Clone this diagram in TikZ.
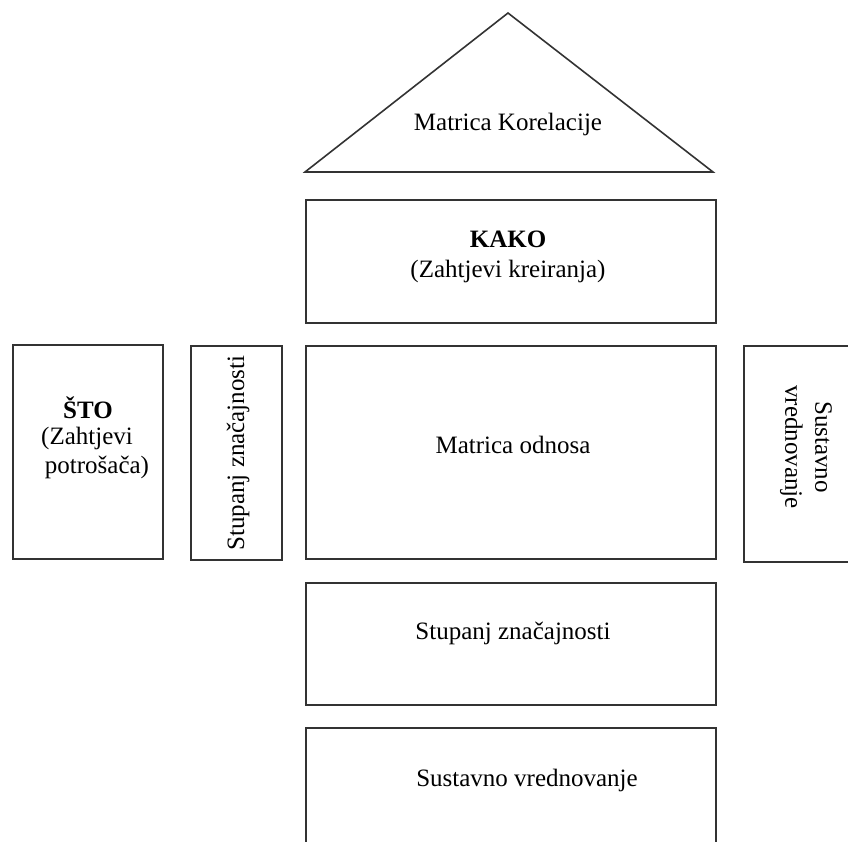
\documentclass[tikz,border=0pt]{standalone}
\usepackage{fontspec}
\setmainfont{Liberation Serif}
\begin{document}
\begin{tikzpicture}[x=0.5pt,y=-0.5pt,
  box/.style={draw=black!80, line width=0.8pt, inner sep=0pt, anchor=north west},
  txt/.style={inner sep=0pt, font=\fontsize{12.5}{15}\selectfont}]
\clip (0,0) rectangle (848,842);
% roof
\coordinate (tl) at (305,172);
\coordinate (tt) at (508,13);
\coordinate (tr) at (713,172);
\draw[draw=black!80, line width=0.8pt] (tl) -- (tt) -- (tr) -- cycle;
\node[txt] (korel) at (508,124) {Matrica Korelacije};
% boxes
\node[box, minimum width=205pt, minimum height=61.5pt] (kako) at (305,199) {};
\node[box, minimum width=205pt, minimum height=106.5pt] (odnos) at (305,345) {};
\node[box, minimum width=205pt, minimum height=61pt] (stup) at (305,582) {};
\node[box, minimum width=205pt, minimum height=100pt] (sust) at (305,727) {};
\node[box, minimum width=75pt, minimum height=107pt] (sto) at (12,344) {};
\node[box, minimum width=45.5pt, minimum height=107pt] (vstup) at (190,345) {};
\node[box, minimum width=75pt, minimum height=108pt] (vsust) at (743,345) {};
% texts
\node[txt, align=center] (kakot) at (508,257) {\textbf{KAKO}\\(Zahtjevi kreiranja)};
\node[txt] (odnost) at (513,445) {Matrica odnosa};
\node[txt] (stupt) at (513,633) {Stupanj značajnosti};
\node[txt] (sustt) at (527,780) {Sustavno vrednovanje};
\node[txt] (sto1) at (88,408) {\textbf{ŠTO}};
\node[txt] (sto2) at (87,438) {(Zahtjevi};
\node[txt] (sto3) at (97,467) {potrošača)};
\node[txt, rotate=90] (vstupt) at (238,453) {Stupanj značajnosti};
\node[txt, rotate=-90, align=center] (vsustt) at (806,447) {Sustavno\\vrednovanje};
\end{tikzpicture}
\end{document}
